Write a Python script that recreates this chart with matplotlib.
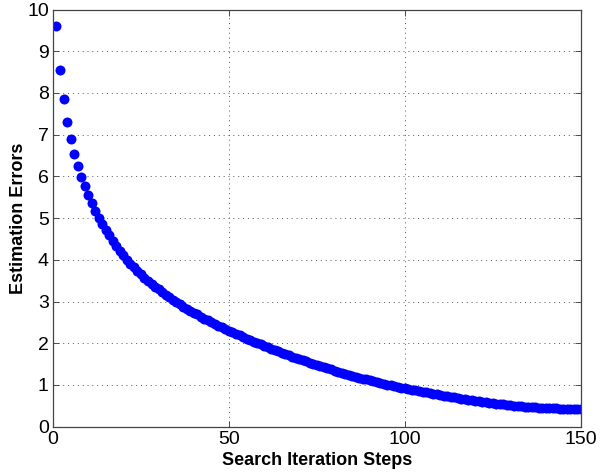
import matplotlib
matplotlib.use('Agg')
import matplotlib.pyplot as plt

# iteration steps 1..150
steps = list(range(1, 151))

# estimation error, one value per step
errors = [
	9.60, 8.55, 7.85, 7.30, 6.90, 6.54, 6.25, 5.99, 5.76, 5.55,
	5.36, 5.18, 5.01, 4.86, 4.72, 4.59, 4.46, 4.34, 4.22, 4.11,
	4.00, 3.91, 3.82, 3.73, 3.65, 3.57, 3.49, 3.42, 3.35, 3.29,
	3.22, 3.16, 3.10, 3.04, 2.99, 2.94, 2.88, 2.83, 2.78, 2.73,
	2.69, 2.64, 2.59, 2.55, 2.50, 2.46, 2.42, 2.38, 2.34, 2.30,
	2.262, 2.224, 2.187, 2.150, 2.113, 2.077, 2.041, 2.006, 1.972, 1.939,
	1.905, 1.872, 1.839, 1.807, 1.775, 1.744, 1.713, 1.682, 1.652, 1.622,
	1.593, 1.564, 1.535, 1.507, 1.479, 1.452, 1.425, 1.398, 1.372, 1.346,
	1.321, 1.296, 1.272, 1.248, 1.224, 1.201, 1.178, 1.155, 1.133, 1.111,
	1.090, 1.069, 1.049, 1.029, 1.010, 0.991, 0.972, 0.954, 0.936, 0.919,
	0.902, 0.886, 0.870, 0.854, 0.838, 0.822, 0.806, 0.791, 0.776, 0.761,
	0.746, 0.731, 0.717, 0.703, 0.689, 0.675, 0.662, 0.649, 0.636, 0.623,
	0.611, 0.599, 0.587, 0.576, 0.565, 0.554, 0.544, 0.534, 0.524, 0.515,
	0.506, 0.497, 0.489, 0.481, 0.474, 0.467, 0.461, 0.456, 0.451, 0.447,
	0.443, 0.440, 0.437, 0.435, 0.433, 0.432, 0.431, 0.431, 0.431, 0.432,
]

x_ticks = [0, 50, 100, 150]
y_ticks = list(range(0, 11))

plt.rcParams['font.family'] = ['Liberation Sans', 'DejaVu Sans']

fig = plt.figure(figsize=(6.16, 4.74), dpi=100)
ax = fig.add_axes([0.086, 0.0998, 0.857, 0.880])

ax.plot(steps, errors, linestyle='none', marker='o', markersize=7.2,
	color='#0000ff', markeredgewidth=0)

ax.set_xlim(0, 150)
ax.set_ylim(0, 10)
ax.set_xticks(x_ticks)
ax.set_yticks(y_ticks)

# matlab-ish look: dotted grid, ticks inside on all sides
ax.grid(True, color='#555555', linestyle=(0, (1, 4)), linewidth=0.7)
ax.tick_params(direction='in', top=True, right=True, length=4,
	width=0.6, color='#333333', labelsize=14, pad=3)
for s in ax.spines.values():
	s.set_color('#444444')
	s.set_linewidth(0.9)

ax.set_xlabel('Search Iteration Steps', fontsize=13, fontweight='bold', labelpad=3)
ax.set_ylabel('Estimation Errors', fontsize=13, fontweight='bold', labelpad=0)

fig.savefig('out.png', dpi=100)
